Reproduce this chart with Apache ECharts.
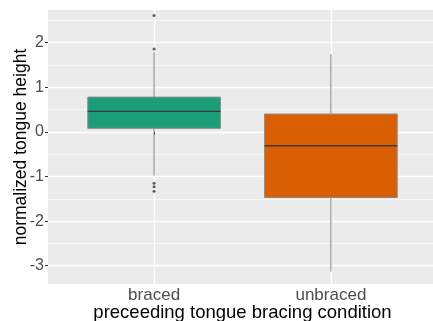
<!DOCTYPE html>
<html>
<head>
<meta charset="utf-8">
<script src="https://cdn.jsdelivr.net/npm/echarts@6/dist/echarts.min.js"></script>
<style>
  html, body { margin: 0; padding: 0; background: #fff; }
  #chart { width: 433px; height: 321px; }
</style>
</head>
<body>
<div id="chart"></div>
<script>
// groups on the x axis (placed at 1 and 2)
const categories = ['braced', 'unbraced']
const fills = ['#1B9E77', '#D95F02']
// [lower whisker, Q1, median, Q3, upper whisker]
const boxStats = [
  [-0.98, 0.08, 0.46, 0.78, 1.79],
  [-3.13, -1.47, -0.31, 0.40, 1.74],
]
// outliers: [group position, value]
const outliers = [
  [1, 2.61], [1, 1.86], [1, -1.15], [1, -1.23], [1, -1.33],
]
const majorTicks = [-3, -2, -1, 0, 1, 2]
const minorTicks = [-2.5, -1.5, -0.5, 0.5, 1.5, 2.5]

const chart = echarts.init(document.getElementById('chart'))
const fontFamily = 'Liberation Sans, Arial, sans-serif'

chart.setOption({
  animation: false,
  grid: {
    left: 48, width: 389, top: 10, height: 274,
    outerBoundsMode: 'none',
    containLabel: false,
    show: true, backgroundColor: '#EBEBEB', borderWidth: 0,
  },
  xAxis: {
    type: 'value',
    min: 0.4,
    max: 2.6,
    name: 'preceeding tongue bracing condition',
    nameLocation: 'middle',
    nameGap: 19,
    nameMoveOverlap: false,
    nameTextStyle: { color: '#000', fontSize: 18.5, fontFamily, verticalAlign: 'top' },
    axisLine: { show: false },
    axisTick: { show: true, customValues: [1, 2], length: 3, lineStyle: { color: '#333' } },
    axisLabel: {
      customValues: [1, 2],
      formatter: (v) => categories[Math.round(v) - 1],
      color: '#4D4D4D', fontSize: 17, fontFamily, margin: 3,
    },
    splitLine: { show: true, lineStyle: { color: '#fff', width: 1.3 } },
  },
  yAxis: [
    {
      type: 'value',
      min: -3.41,
      max: 2.733,
      name: 'normalized tongue height',
      nameLocation: 'middle',
      nameGap: 18,
      nameMoveOverlap: false,
      nameTextStyle: { color: '#000', fontSize: 17.5, fontFamily },
      axisLine: { show: false },
      axisTick: { show: true, customValues: majorTicks, length: 3, lineStyle: { color: '#333' } },
      axisLabel: { customValues: majorTicks, color: '#4D4D4D', fontSize: 16, fontFamily, margin: 4 },
      splitLine: { show: true, lineStyle: { color: '#fff', width: 1.3 } },
    },
    {
      type: 'value',
      min: -3.41,
      max: 2.733,
      position: 'left',
      axisLine: { show: false },
      axisTick: { show: false, customValues: minorTicks },
      axisLabel: { show: false },
      splitLine: { show: true, lineStyle: { color: '#fff', width: 0.6 } },
    },
  ],
  series: [
    {
      type: 'custom',
      data: boxStats.map((s, i) => [i + 1, ...s]),
      renderItem: (params, api) => {
        const x = api.value(0)
        const half = api.size([0.75, 0])[0] / 2
        const lo = api.coord([x, api.value(1)])
        const q1 = api.coord([x, api.value(2)])
        const med = api.coord([x, api.value(3)])
        const q3 = api.coord([x, api.value(4)])
        const hi = api.coord([x, api.value(5)])
        const whisker = { stroke: '#7F7F7F', lineWidth: 1 }
        return {
          type: 'group',
          children: [
            { type: 'line', shape: { x1: hi[0], y1: hi[1], x2: q3[0], y2: q3[1] }, style: whisker },
            { type: 'line', shape: { x1: q1[0], y1: q1[1], x2: lo[0], y2: lo[1] }, style: whisker },
            {
              type: 'rect',
              shape: { x: q3[0] - half, y: q3[1], width: half * 2, height: q1[1] - q3[1] },
              style: { fill: fills[params.dataIndex], stroke: '#8A8A8A', lineWidth: 1 },
            },
            {
              type: 'line',
              shape: { x1: med[0] - half, y1: med[1], x2: med[0] + half, y2: med[1] },
              style: { stroke: '#3A3A3A', lineWidth: 1.4 },
            },
          ],
        }
      },
    },
    {
      type: 'scatter',
      data: outliers,
      symbolSize: 3,
      itemStyle: { color: '#333' },
    },
  ],
})
</script>
</body>
</html>
